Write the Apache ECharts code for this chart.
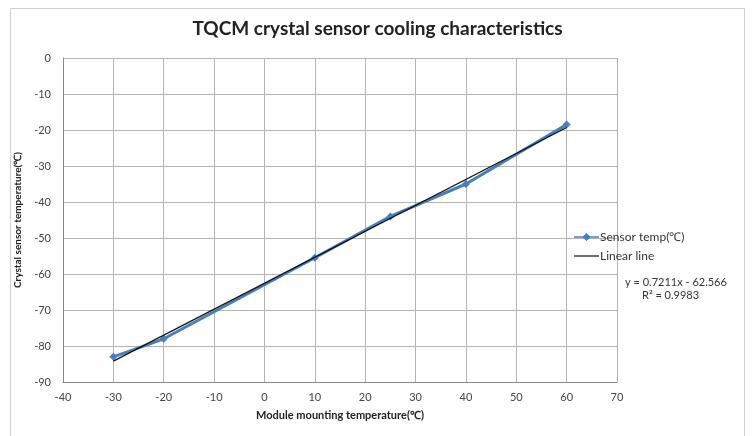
<!DOCTYPE html>
<html><head><meta charset="utf-8">
<script src="https://cdn.jsdelivr.net/npm/echarts@6/dist/echarts.min.js"></script>
<style>html,body{margin:0;padding:0;background:#fff}#c{width:755px;height:436px}</style>
</head><body><div id="c"></div>
<script>
const sensorX = [-30, -20, 10, 25, 40, 60];
const sensorY = [-83, -78, -55.5, -44, -35, -18.5];
const linearX = [-30, 60];
const linearY = [-84.2, -19.3];
const titleText = 'TQCM crystal sensor cooling characteristics';
const xName = 'Module mounting temperature(\u2103)';
const yName = 'Crystal sensor temperature(\u2103)';
const eqLines = ['y = 0.7211x - 62.566', 'R\u00b2 = 0.9983'];

const font = 'Lato, "Open Sans", sans-serif';
const chart = echarts.init(document.getElementById('c'));
chart.setOption({
  animation: false,
  backgroundColor: '#fff',
  textStyle: {fontFamily: font},
  title: {text: titleText, left: 'center', top: 14,
    textStyle: {fontSize: 19, fontWeight: 'bold', color: '#222', fontFamily: font}},
  graphic: [
    {type: 'rect', shape: {x: 10.5, y: 8.5, width: 734, height: 430}, style: {fill: 'none', stroke: '#d0d0d0', lineWidth: 1}},
    {type: 'text', left: 625, top: 277, style: {text: eqLines[0], fontSize: 11, fill: '#333', fontFamily: font}},
    {type: 'text', left: 642, top: 290, style: {text: eqLines[1], fontSize: 11, fill: '#333', fontFamily: font}}
  ],
  legend: {
    orient: 'vertical', left: 569, top: 226, itemGap: 7, itemWidth: 25, itemHeight: 10,
    textStyle: {fontSize: 12, color: '#333', fontFamily: font, padding: [0,0,0,-4]},
    data: [{name: 'Sensor temp(\u2103)', icon: 'path://M0,4.2L9,4.2L12.5,1L16,4.2L25,4.2L25,5.8L16,5.8L12.5,9L9,5.8L0,5.8Z'},
           {name: 'Linear line', icon: 'path://M0,4.4L25,4.4L25,5.6L0,5.6Z'}]
  },
  grid: {left: 63, right: 138, top: 58, bottom: 54},
  xAxis: {
    type: 'value', min: -40, max: 70, interval: 10,
    name: xName, nameLocation: 'middle', nameGap: 28,
    nameTextStyle: {fontSize: 11, fontWeight: 'bold', color: '#222'},
    axisLine: {onZero: false, lineStyle: {color: '#888'}}, axisTick: {show: false},
    axisLabel: {fontSize: 11, color: '#444', margin: 10},
    splitLine: {lineStyle: {color: '#b4b4b4'}}
  },
  yAxis: {
    type: 'value', min: -90, max: 0, interval: 10,
    name: yName, nameLocation: 'middle', nameGap: 30,
    nameTextStyle: {fontSize: 10, fontWeight: 'bold', color: '#222'},
    axisLine: {show: true, onZero: false, lineStyle: {color: '#888'}}, axisTick: {show: false},
    axisLabel: {fontSize: 11, color: '#444', margin: 12},
    splitLine: {lineStyle: {color: '#b4b4b4'}}
  },
  series: [
    {name: 'Sensor temp(\u2103)', type: 'line', data: sensorX.map((x,i)=>[x, sensorY[i]]),
     symbol: 'diamond', symbolSize: 8, lineStyle: {color: '#4a7ebb', width: 3},
     itemStyle: {color: '#4a7ebb'}, color: '#4a7ebb', z: 2},
    {name: 'Linear line', type: 'line', data: linearX.map((x,i)=>[x, linearY[i]]),
     symbol: 'none', lineStyle: {color: '#111', width: 1.3}, color: '#111', z: 3}
  ]
});
</script></body></html>
